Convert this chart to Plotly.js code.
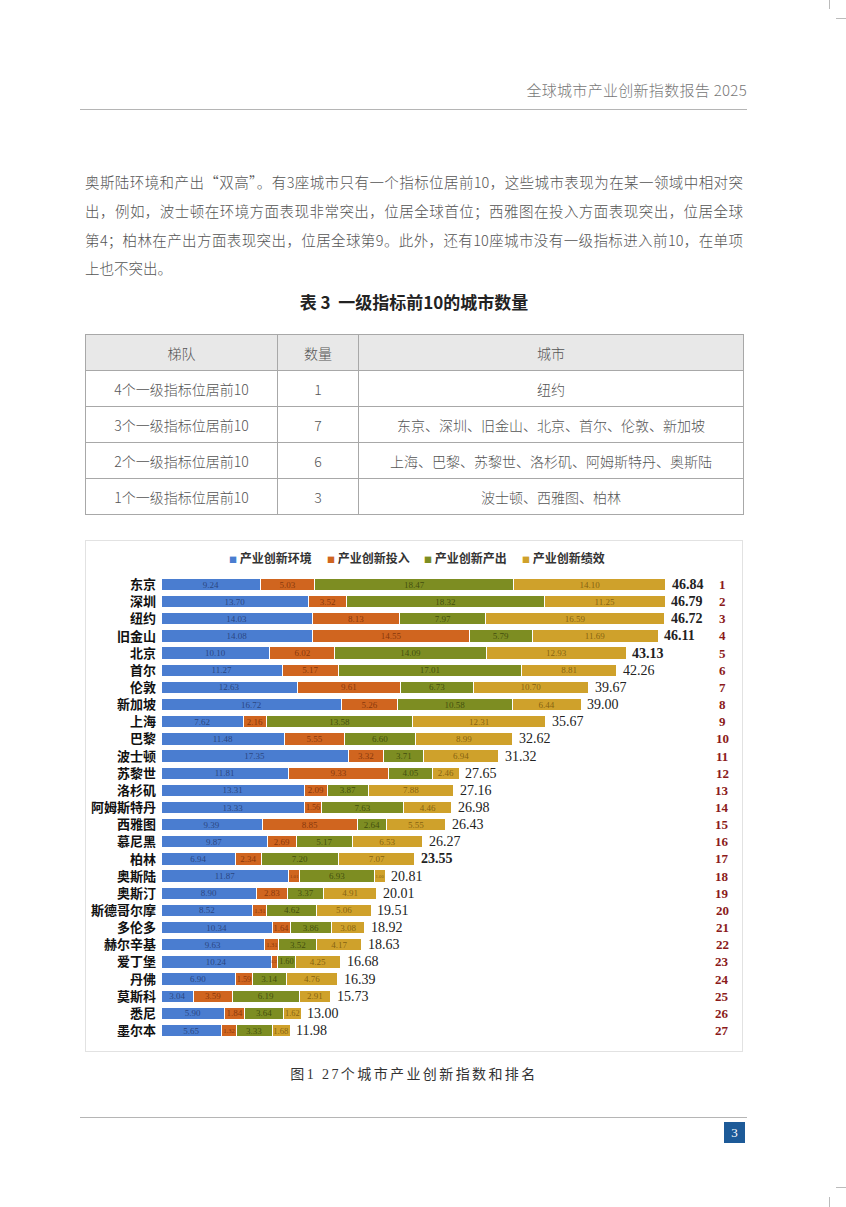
<!DOCTYPE html>
<html><head><meta charset="utf-8">
<script src="https://cdn.plot.ly/plotly-3.0.1.min.js"></script>
<style>
body{margin:0;width:846px;height:1207px;position:relative;background:#fff;font-family:"Noto Sans CJK SC","Noto Sans",sans-serif;overflow:hidden}
.abs{position:absolute}
.hdr{right:99px;top:79px;font-size:15px;color:#777;font-weight:300;letter-spacing:0.3px}
.rule{height:1px;background:#b5b5b5;left:80px;width:667px}
.para{left:85px;width:658px;font-size:14.5px;color:#555;font-weight:300;line-height:20px}
.just{text-align:justify;text-align-last:justify}
.ttl{left:85px;width:658px;text-align:center;top:289px;font-size:17px;font-weight:bold;color:#222}
table{position:absolute;left:85px;top:334px;width:659px;border-collapse:collapse;font-size:14px;color:#555;font-weight:300}
td,th{border:1px solid #a8a8a8;text-align:center;padding:0;height:35px}
th{background:#e8e8e8;font-weight:300;height:35px}
#box{left:85px;top:540px;width:658px;height:512px;border:1px solid #e2e2e2;box-sizing:border-box}
#chart{position:absolute;left:0;top:0;width:656px;height:510px}
.cap{left:85px;width:658px;text-align:center;top:1063px;font-size:14px;color:#333;letter-spacing:2.4px;font-family:"Liberation Serif","Noto Sans CJK SC",serif}
.pg{left:724px;top:1122px;width:21px;height:21px;background:#1d5a98;color:#fff;font-size:13px;text-align:center;line-height:21px;font-family:"Liberation Serif",serif}
.mk{background:#bbb}
</style></head>
<body>
<div class="abs mk" style="left:829px;top:0;width:1px;height:9px"></div>
<div class="abs mk" style="left:836px;top:18px;width:10px;height:1px"></div>
<div class="abs mk" style="left:836px;top:1187px;width:10px;height:1px"></div>
<div class="abs mk" style="left:829px;top:1197px;width:1px;height:10px"></div>

<div class="abs hdr">全球城市产业创新指数报告 2025</div>
<div class="abs rule" style="top:109px"></div>

<div class="abs para just" style="top:172px">奥斯陆环境和产出“双高”。有3座城市只有一个指标位居前10，这些城市表现为在某一领域中相对突</div>
<div class="abs para just" style="top:201px">出，例如，波士顿在环境方面表现非常突出，位居全球首位；西雅图在投入方面表现突出，位居全球</div>
<div class="abs para just" style="top:230px">第4；柏林在产出方面表现突出，位居全球第9。此外，还有10座城市没有一级指标进入前10，在单项</div>
<div class="abs para" style="top:258px">上也不突出。</div>

<div class="abs ttl">表 3&nbsp; 一级指标前10的城市数量</div>
<table>
<tr><th style="width:191px">梯队</th><th style="width:80px">数量</th><th>城市</th></tr>
<tr><td>4个一级指标位居前10</td><td>1</td><td>纽约</td></tr>
<tr><td>3个一级指标位居前10</td><td>7</td><td>东京、深圳、旧金山、北京、首尔、伦敦、新加坡</td></tr>
<tr><td>2个一级指标位居前10</td><td>6</td><td>上海、巴黎、苏黎世、洛杉矶、阿姆斯特丹、奥斯陆</td></tr>
<tr><td>1个一级指标位居前10</td><td>3</td><td>波士顿、西雅图、柏林</td></tr>
</table>

<div id="box" class="abs"><div id="chart"></div></div>

<div class="abs cap">图1 27个城市产业创新指数和排名</div>
<div class="abs rule" style="top:1117px"></div>
<div class="abs pg">3</div>

<script>
const cities = ["东京","深圳","纽约","旧金山","北京","首尔","伦敦","新加坡","上海","巴黎","波士顿","苏黎世","洛杉矶","阿姆斯特丹","西雅图","慕尼黑","柏林","奥斯陆","奥斯汀","斯德哥尔摩","多伦多","赫尔辛基","爱丁堡","丹佛","莫斯科","悉尼","墨尔本"];
const seriesNames = ["产业创新环境","产业创新投入","产业创新产出","产业创新绩效"];
const envVals  = [9.24,13.70,14.03,14.08,10.10,11.27,12.63,16.72,7.62,11.48,17.35,11.81,13.31,13.33,9.39,9.87,6.94,11.87,8.90,8.52,10.34,9.63,10.24,6.90,3.04,5.90,5.65];
const inVals   = [5.03,3.52,8.13,14.55,6.02,5.17,9.61,5.26,2.16,5.55,3.32,9.33,2.09,1.56,8.85,2.69,2.34,1.01,2.83,1.31,1.64,1.31,0.59,1.59,3.59,1.84,1.32];
const outVals  = [18.47,18.32,7.97,5.79,14.09,17.01,6.73,10.58,13.58,6.60,3.71,4.05,3.87,7.63,2.64,5.17,7.20,6.93,3.37,4.62,3.86,3.52,1.60,3.14,6.19,3.64,3.33];
const perfVals = [14.10,11.25,16.59,11.69,12.93,8.81,10.70,6.44,12.31,8.99,6.94,2.46,7.88,4.46,5.55,6.53,7.07,1.00,4.91,5.06,3.08,4.17,4.25,4.76,2.91,1.62,1.68];
const totals   = ["46.84","46.79","46.72","46.11","43.13","42.26","39.67","39.00","35.67","32.62","31.32","27.65","27.16","26.98","26.43","26.27","23.55","20.81","20.01","19.51","18.92","18.63","16.68","16.39","15.73","13.00","11.98"];
const ranks    = ["1","2","3","4","5","6","7","8","9","10","11","12","13","14","15","16","17","18","19","20","21","22","23","24","25","26","27"];

const colors = ["#4a7dd0","#d0651f","#7d8d22","#cfa12b"];
const labelColors = ["rgba(30,50,100,0.75)","rgba(110,40,5,0.75)","rgba(40,50,5,0.7)","rgba(100,70,5,0.7)"];
const boldTotals = new Set([0,1,2,3,4,16]);

const W = 656, H = 510, ML = 75, MR = 9, MT = 34, MB = 11;
const XMAX = 53.06;
const pxPerUnit = (W-ML-MR)/XMAX;

const seriesVals = [envVals,inVals,outVals,perfVals];
const traces = [];
seriesVals.forEach((vals,k)=>{
  traces.push({
    type:'bar', orientation:'h', x:vals, y:cities, name:seriesNames[k], showlegend:false,
    marker:{color:colors[k], line:{color:'#ffffff', width:1}},
    text:vals.map(v=>v.toFixed(2)), textposition:'inside', insidetextanchor:'middle',
    textangle:0, constraintext:'none',
    textfont:{family:'Liberation Serif, serif', color:labelColors[k],
      size:vals.map(v=>Math.max(4, Math.min(9, (v*pxPerUnit-2)/1.85)))},
    hoverinfo:'skip'
  });
});

const annotations = [];
cities.forEach((c,i)=>{
  const s = envVals[i]+inVals[i]+outVals[i]+perfVals[i];
  annotations.push({x:s, y:c, xref:'x', yref:'y', text:totals[i], showarrow:false, xanchor:'left', xshift:4,
    font:{family:'Liberation Serif, serif', size:14, color:'#222', weight: boldTotals.has(i)?'bold':'normal'}});
  annotations.push({x:0.981, y:c, xref:'paper', yref:'y', text:ranks[i], showarrow:false, xanchor:'center',
    font:{family:'Liberation Serif, serif', size:13, color:'#8b1a1a', weight:'bold'}});
});
// legend row (drawn as annotations to match the compact original legend)
const legStart = 141, legPitch = 97.5;
seriesNames.forEach((n,k)=>{
  annotations.push({x:(legStart + k*legPitch - ML)/(W-ML-MR), y:1,
    xref:'paper', yref:'paper', xanchor:'left', yanchor:'middle', showarrow:false,
    yshift: MT - 16,
    text:'<span style="color:'+colors[k]+';font-size:8px">■</span> '+n,
    font:{family:'Noto Sans CJK SC, sans-serif', size:12, color:'#333', weight:'bold'}});
});

const layout = {
  width:W, height:H, barmode:'stack', bargap:0.28,
  paper_bgcolor:'#fff', plot_bgcolor:'#fff',
  margin:{l:ML, r:MR, t:MT, b:MB},
  font:{family:'Noto Sans CJK SC, sans-serif'},
  xaxis:{range:[0,XMAX], visible:false, fixedrange:true},
  yaxis:{autorange:'reversed', showgrid:false, zeroline:false, showline:false, ticks:'', ticklabelstandoff:4,
    tickfont:{family:'Noto Sans CJK SC, sans-serif', size:13, color:'#111', weight:'bold'}, fixedrange:true},
  annotations:annotations,
  showlegend:false
};
Plotly.newPlot('chart', traces, layout, {displayModeBar:false, staticPlot:true});
</script>
</body></html>
